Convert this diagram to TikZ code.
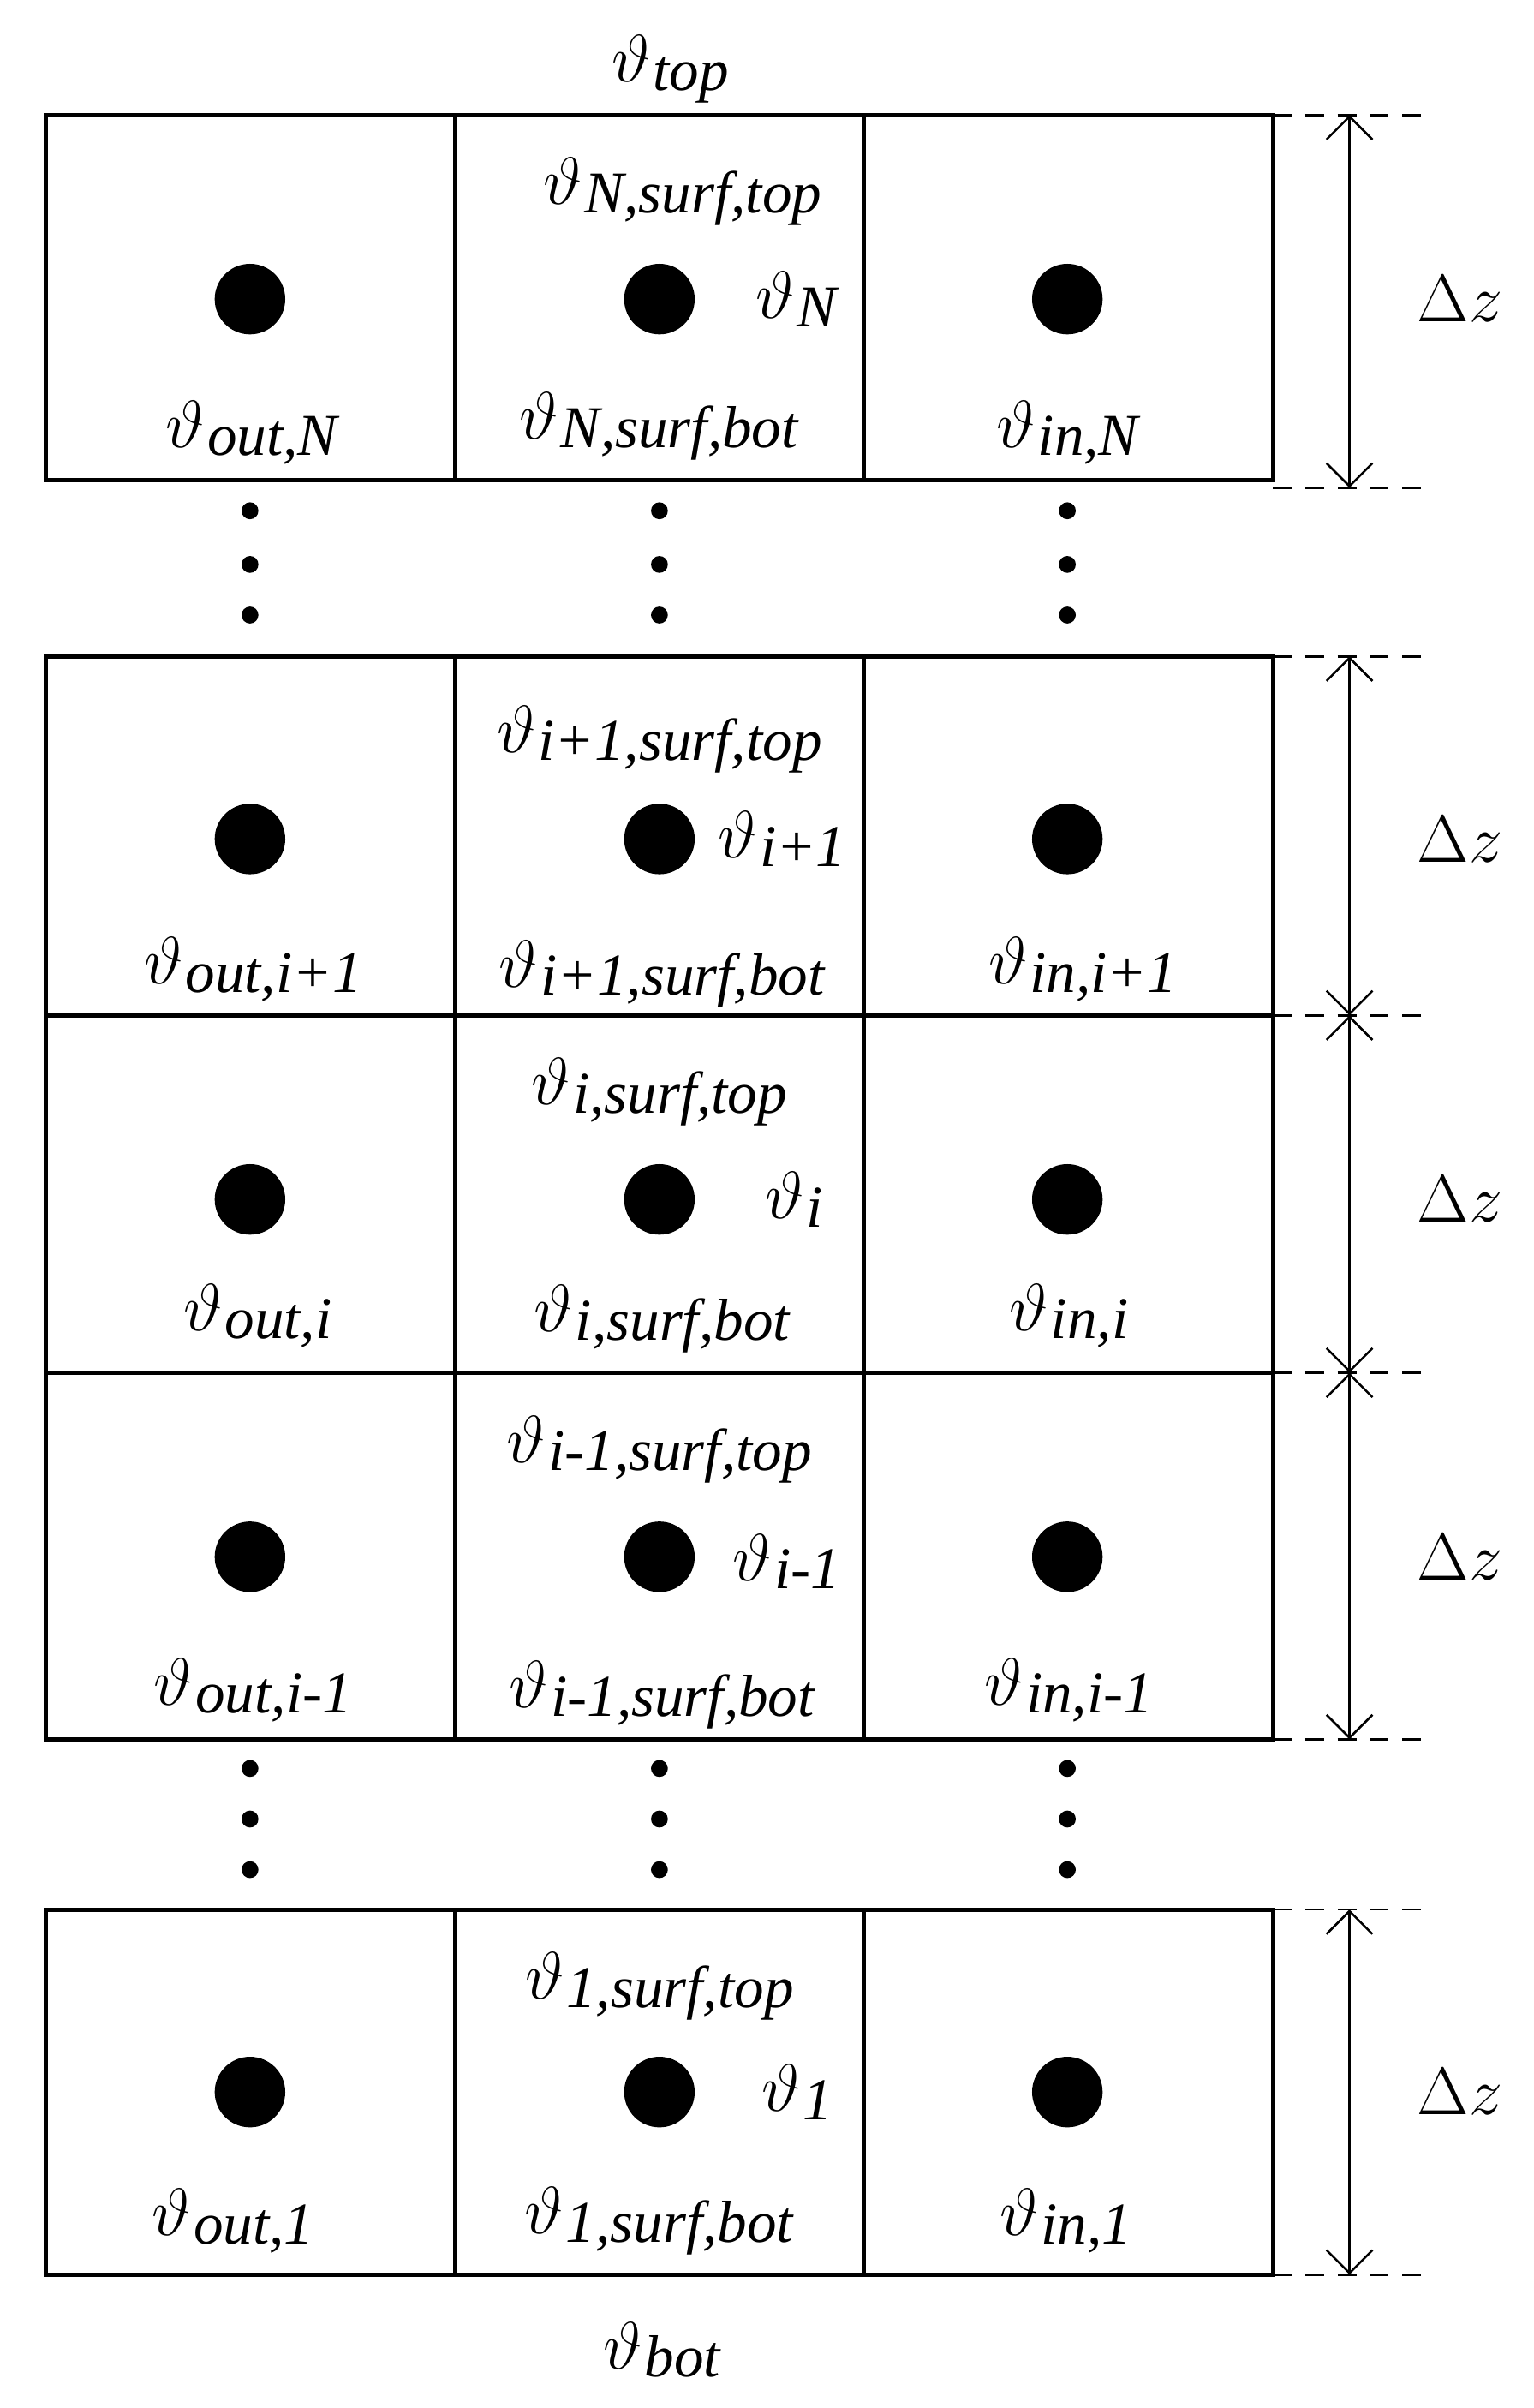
\documentclass[tikz,border=0pt]{standalone}
\usepackage{fontspec}
\setmainfont{Liberation Serif}
\usetikzlibrary{arrows.meta}
\begin{document}
\begin{tikzpicture}[x=0.02cm,y=-0.02cm,
  box/.style={line width=1.6pt},
  dot/.style={circle,fill=black,inner sep=0pt,minimum size=0.92cm},
  sdot/.style={circle,fill=black,inner sep=0pt,minimum size=0.22cm},
  lab/.style={inner sep=0pt},
  dline/.style={dash pattern=on 7pt off 5pt,line width=0.8pt},
  dim/.style={line width=0.8pt,{Straight Barb[length=3mm]}-{Straight Barb[length=3mm]}}]
\useasboundingbox (0,0) rectangle (1000,1570);
\newcommand{\tv}[1]{{\fontsize{36}{38}\selectfont$\vartheta$}\kern1pt\raisebox{-0.3em}{\fontsize{22}{24}\selectfont\textit{#1}}}
% blocks
\foreach \t/\b/\n in {75/313/a,428/662/b,662/895/c,895/1134/d,1245/1483/e}{
  \draw[box] (30,\t) rectangle (830,\b);
  \draw[box] (297,\t) -- (297,\b);
  \draw[box] (563,\t) -- (563,\b);
}
% big dots
\foreach \y/\n in {195/a,547/b,782/c,1015/d,1364/e}{
  \foreach \x/\c in {163/o,430/m,696/i}{\node[dot] (\c\n) at (\x,\y) {};}
}
% small dots
\foreach \y in {333,368,401,1153,1186,1219}{
  \foreach \x in {163,430,696}{\node[sdot] at (\x,\y) {};}
}
% dashed lines and dims
\foreach \y/\n in {75/1,318/2,428/3,662/4,895/5,1134/6,1245/7,1483/8}{
  \coordinate (L\n) at (880,\y);
  \draw[dline] (830,\y) -- (930,\y);
}
\draw[dim] (L1) -- (L2);
\draw[dim] (L3) -- (L4);
\draw[dim] (L4) -- (L5);
\draw[dim] (L5) -- (L6);
\draw[dim] (L7) -- (L8);
\foreach \y/\n in {195/1,547/2,782/3,1015/4,1364/5}{\node[lab,font=\fontsize{32}{34}\selectfont] (dz\n) at (952,\y) {$\Delta z$};}
% labels
\node[lab] (tt) at (437,45) {\tv{top}};
\node[lab] (tb) at (432,1532) {\tv{bot}};
\node[lab] at (445,125) {\tv{N,surf,top}};
\node[lab] at (520,195) {\tv{N}};
\node[lab] at (165,282) {\tv{out,N}};
\node[lab] at (430,278) {\tv{N,surf,bot}};
\node[lab] at (697,282) {\tv{in,N}};
\node[lab] at (430,482) {\tv{i+1,surf,top}};
\node[lab] at (510,547) {\tv{i+1}};
\node[lab] at (165,632) {\tv{out,i+1}};
\node[lab] at (432,635) {\tv{i+1,surf,bot}};
\node[lab] at (706,632) {\tv{in,i+1}};
\node[lab] at (430,712) {\tv{i,surf,top}};
\node[lab] at (518,782) {\tv{i}};
\node[lab] at (168,858) {\tv{out,i}};
\node[lab] at (432,860) {\tv{i,surf,bot}};
\node[lab] at (697,858) {\tv{in,i}};
\node[lab] at (430,945) {\tv{i-1,surf,top}};
\node[lab] at (513,1018) {\tv{i-1}};
\node[lab] at (165,1102) {\tv{out,i-1}};
\node[lab] at (432,1105) {\tv{i-1,surf,bot}};
\node[lab] at (697,1102) {\tv{in,i-1}};
\node[lab] at (430,1295) {\tv{1,surf,top}};
\node[lab] at (520,1364) {\tv{1}};
\node[lab] at (152,1448) {\tv{out,1}};
\node[lab] at (430,1448) {\tv{1,surf,bot}};
\node[lab] at (695,1448) {\tv{in,1}};
\end{tikzpicture}
\end{document}
